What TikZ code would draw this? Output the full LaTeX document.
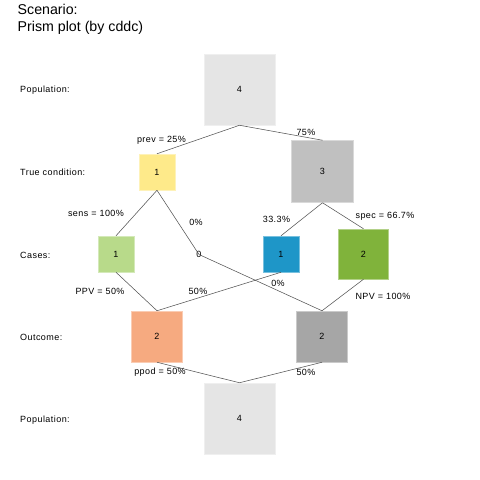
\documentclass[tikz,border=0pt]{standalone}
\usepackage{fontspec}
\setmainfont{Liberation Sans}
\newfontfamily\lsfont[LetterSpace=5]{Liberation Sans}
\definecolor{popgrey}{HTML}{E5E5E5}
\definecolor{tcyellow}{HTML}{FEEA8A}
\definecolor{tcgrey}{HTML}{C0C0C0}
\definecolor{hitgreen}{HTML}{B8DA8A}
\definecolor{fablue}{HTML}{1E96C8}
\definecolor{crgreen}{HTML}{80B33B}
\definecolor{decorange}{HTML}{F6AA80}
\definecolor{decgrey}{HTML}{A6A6A6}
\definecolor{linegrey}{HTML}{555555}
\begin{document}
\begin{tikzpicture}[x=1pt,y=-1pt,
  smallfont/.style={font=\lsfont\fontsize{9}{11}\selectfont},
  box/.style={draw=#1!60!white, line width=0.5pt, fill=#1, inner sep=0pt, smallfont},
  lab/.style={smallfont, inner sep=0pt},
  rowlab/.style={smallfont, inner sep=0pt, anchor=west},
  conn/.style={draw=linegrey, line width=0.55pt}]
\useasboundingbox (0,0) rectangle (480,480);
% title
\node[anchor=west, inner sep=0pt, font=\fontsize{14.2}{16}\selectfont] (t1) at (17.5,9.5) {Scenario:};
\node[anchor=west, inner sep=0pt, font=\fontsize{14.2}{16}\selectfont] (t2) at (17.5,27.5) {Prism plot (by cddc)};
% row labels
\node[rowlab] (r1) at (20,90.5) {Population:};
\node[rowlab] (r2) at (20,172.5) {True condition:};
\node[rowlab] (r3) at (20,255) {Cases:};
\node[rowlab] (r4) at (20,337.5) {Outcome:};
\node[rowlab] (r5) at (20,420) {Population:};
% boxes
\node[box=popgrey, minimum size=71pt] (pop1) at (239.5,89.5) {4};
\node[box=tcyellow, minimum size=36pt] (cp) at (157,172) {1};
\node[box=tcgrey, minimum size=62pt] (cn) at (322.5,171.5) {3};
\node[box=hitgreen, minimum size=36pt] (hi) at (116,254) {1};
\node[inner sep=0pt, smallfont] (mi) at (199,254.5) {0};
\node[box=fablue, minimum size=36pt] (fa) at (281,254) {1};
\node[box=crgreen, minimum size=50pt] (cr) at (363.5,254) {2};
\node[box=decorange, minimum size=51pt] (dp) at (157,336.5) {2};
\node[box=decgrey, minimum size=51pt] (dn) at (322,336.5) {2};
\node[box=popgrey, minimum size=71pt] (pop2) at (239.5,418.5) {4};
% connectors
\draw[conn] (pop1.south) -- (cp.north);
\draw[conn] (pop1.south) -- (cn.north);
\draw[conn] (cp.south) -- (hi.north);
\draw[conn] (cp.south) -- (mi.center);
\draw[conn] (cn.south) -- (fa.north);
\draw[conn] (cn.south) -- (cr.north);
\draw[conn] (hi.south) -- (dp.north);
\draw[conn] (fa.south) -- (dp.north);
\draw[conn] (mi.center) -- (dn.north);
\draw[conn] (cr.south) -- (dn.north);
\draw[conn] (dp.south) -- (pop2.north);
\draw[conn] (dn.south) -- (pop2.north);
% labels
\node[lab] (l1) at (161.5,140) {prev = 25\%};
\node[lab] (l2) at (306,132.5) {75\%};
\node[lab] (l3) at (96,213) {sens = 100\%};
\node[lab] (l4) at (196,222) {0\%};
\node[lab] (l5) at (276.5,219) {33.3\%};
\node[lab] (l6) at (385,216) {spec = 66.7\%};
\node[lab] (l7) at (100,291) {PPV = 50\%};
\node[lab] (l8) at (198,291) {50\%};
\node[lab] (l9) at (278,283) {0\%};
\node[lab] (l10) at (383,296) {NPV = 100\%};
\node[lab] (l11) at (160,372.5) {ppod = 50\%};
\node[lab] (l12) at (306,372.5) {50\%};
\end{tikzpicture}
\end{document}
